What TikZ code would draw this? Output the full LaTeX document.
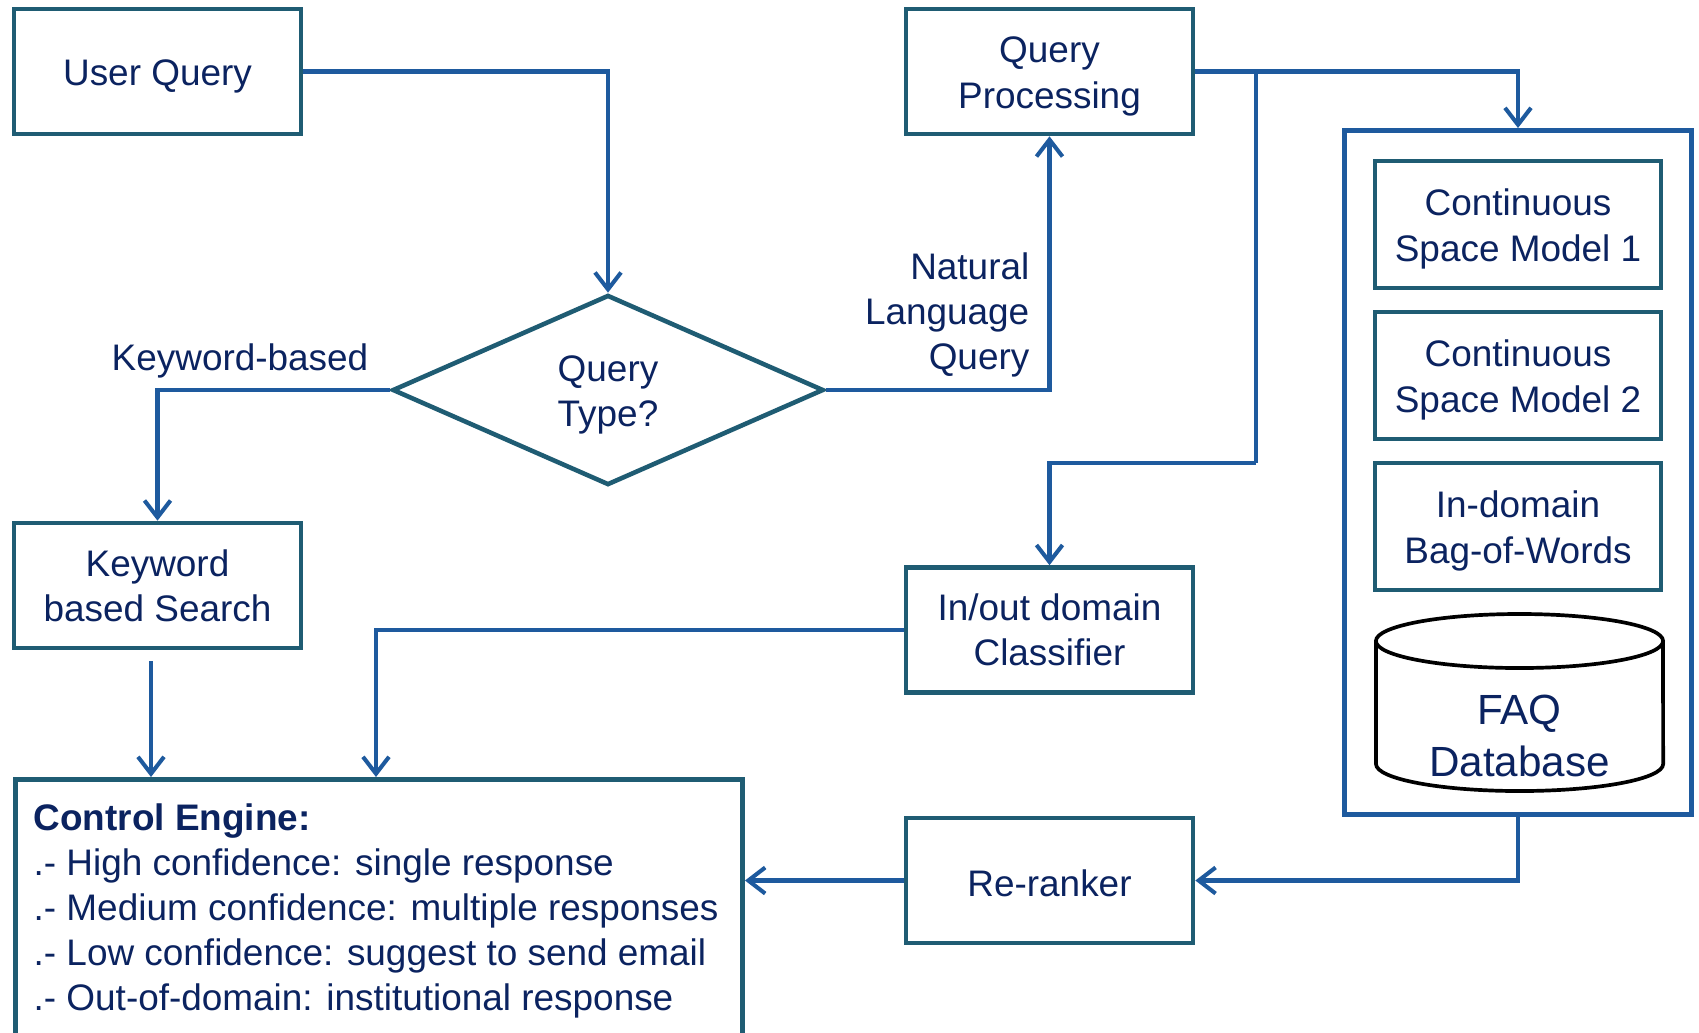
\documentclass[tikz,border=0pt]{standalone}
\usepackage{fontspec}
\setmainfont{Liberation Sans}
\usetikzlibrary{arrows.meta,shapes.geometric,calc}
\definecolor{txt}{HTML}{0B2360}
\definecolor{frame}{HTML}{1F5C73}
\definecolor{wire}{HTML}{1E5A9E}
% a zero-width strut that lowers a line of box text a little
\newcommand{\lift}{\rule{0pt}{10.2pt}}
\begin{document}
\begin{tikzpicture}[x=0.01cm,y=-0.01cm,
  every node/.style={text=txt,font=\fontsize{10.5}{12.9}\selectfont},
  box/.style={draw=frame,line width=1.3pt,fill=white,align=center,
    minimum width=2.87cm,minimum height=1.25cm,inner sep=0pt},
  inbox/.style={box,minimum width=2.86cm,minimum height=1.27cm},
  lbl/.style={inner sep=0pt},
  link/.style={draw=wire,line width=1.15pt},
  arr/.style={link,-{Straight Barb[length=4.8pt,width=7.4pt,line width=1.15pt]}}]
\clip (0,0) rectangle (1699,1032);
\fill[white] (0,0) rectangle (1699,1032);

% left column
\node[box] (uq) at (157.5,71.5) {\lift User Query};
\node[draw=frame,line width=1.3pt,fill=white,diamond,aspect=2.27,
  minimum width=4.31cm,minimum height=1.9cm,inner sep=0pt,align=center]
  (qt) at (608,390) {\lift Query\\Type?};
\node[box] (kbs) at (157.5,585.5) {Keyword\\based Search};

% middle column
\node[box] (qp) at (1049.5,71.5) {\lift Query\\Processing};
\node[box] (ioc) at (1049.5,630) {In/out domain\\Classifier};
\node[box] (rr) at (1049.5,880.5) {\rule{0pt}{9.2pt}Re-ranker};

% model group on the right
\node[draw=wire,line width=1.3pt,minimum width=3.47cm,minimum height=6.84cm,
  inner sep=0pt] (models) at (1518,472.5) {};
\node[inbox] (csm1) at (1518,224.5) {\lift Continuous\\Space Model 1};
\node[inbox] (csm2) at (1518,375.5) {\lift Continuous\\Space Model 2};
\node[inbox] (bow) at (1518,526.5) {\lift In-domain\\Bag-of-Words};

% FAQ database cylinder
\filldraw[fill=white,draw=black,line width=1.05pt]
  (1376,641) -- (1376,764)
  arc[start angle=180,end angle=360,x radius=1.435cm,y radius=0.27cm]
  -- (1663,641);
\draw[black,line width=1.05pt,fill=white] (1519.5,641) ellipse[x radius=1.435cm,y radius=0.27cm];
\node[align=center,font=\fontsize{12}{14.8}\selectfont] (faq) at (1519.5,736) {FAQ\\Database};

% control engine
\node[draw=frame,line width=1.3pt,fill=white,anchor=north west,
  minimum width=7.27cm,minimum height=3.2cm,inner sep=0pt] (ce) at (13,777) {};
\node[lbl,anchor=north west,align=left,font=\fontsize{10.5}{12.8}\selectfont]
  (cetext) at (33,803)
  {\textbf{Control Engine:}\\
   .- High confidence: single response\\
   .- Medium confidence: multiple responses\\
   .- Low confidence: suggest to send email\\
   .- Out-of-domain: institutional response};

% edge labels
\node[lbl] (kwlbl) at (240,361) {Keyword-based};
\node[lbl,anchor=east,align=right] (nllbl) at (1030,315) {Natural\\Language\\Query};

% connector helpers
\coordinate (kbsout) at (151,661);
\coordinate (ceA) at (151,777);
\coordinate (ceB) at (376,777);
\coordinate (br) at (1256,71.5);
\coordinate (bend) at (1256,463);

% connectors
\draw[arr] (uq.east) -| (qt.north);
\draw[arr] (qt.west) -| (kbs.north);
\draw[arr] (qt.east) -| (qp.south);
\draw[arr] (qp.east) -| (models.north);
\draw[link] (br) -- (bend);
\draw[arr] (bend) -| (ioc.north);
\draw[arr] (ioc.west) -| (ceB);
\draw[arr] (kbsout) -- (ceA);
\draw[arr] (models.south) |- (rr.east);
\draw[arr] (rr.west) -- (ce.east |- rr.west);
\end{tikzpicture}
\end{document}
